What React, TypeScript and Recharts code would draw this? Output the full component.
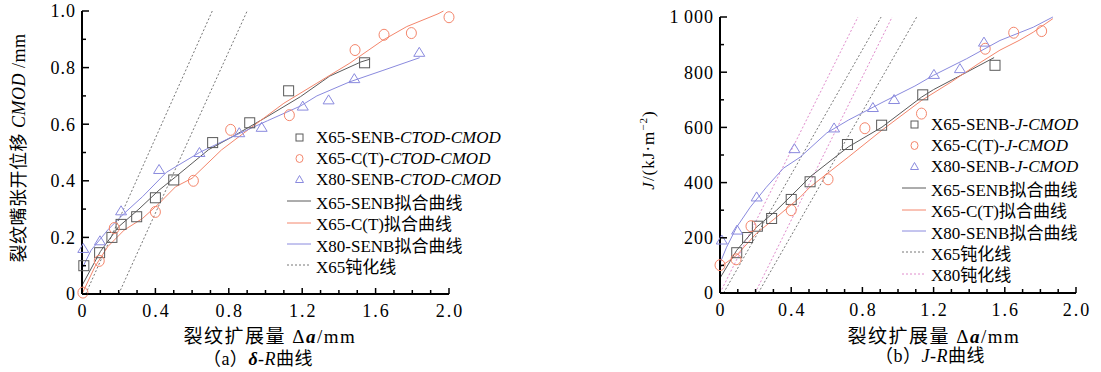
import { ComposedChart, Line, Scatter, XAxis, YAxis } from 'recharts'

const FONT = '"Liberation Serif", "Noto Sans CJK SC", serif'
const GRAY = '#5a5a5a'
const SALMON = '#f4866c'
const BLUE = '#8a8ade'
const PINK = '#e08ccc'

// shared x axis
const xTicks = [0, 0.1, 0.2, 0.3, 0.4, 0.5, 0.6, 0.7, 0.8, 0.9, 1.0, 1.1, 1.2, 1.3, 1.4, 1.5, 1.6, 1.7, 1.8, 1.9, 2.0]
const xMajor = [0, 0.4, 0.8, 1.2, 1.6, 2.0]
const xLabels = ['0', '0.4', '0.8', '1.2', '1.6', '2.0']

// (a) delta-R
const aYTicks = [0, 0.1, 0.2, 0.3, 0.4, 0.5, 0.6, 0.7, 0.8, 0.9, 1.0]
const aYMajor = [0, 0.2, 0.4, 0.6, 0.8, 1.0]
const aYLabels = ['0', '0.2', '0.4', '0.6', '0.8', '1.0']

const a65SenbX = [0.01, 0.096, 0.163, 0.213, 0.298, 0.4, 0.5, 0.712, 0.914, 1.126, 1.54]
const a65SenbY = [0.1, 0.146, 0.2, 0.246, 0.273, 0.34, 0.403, 0.535, 0.605, 0.718, 0.817]
const a65CtX = [0.005, 0.094, 0.176, 0.4, 0.607, 0.81, 1.13, 1.488, 1.646, 1.795, 2.0]
const a65CtY = [0.005, 0.117, 0.233, 0.29, 0.4, 0.58, 0.632, 0.862, 0.916, 0.922, 0.978]
const a80SenbX = [0.007, 0.098, 0.213, 0.42, 0.64, 0.857, 0.979, 1.203, 1.344, 1.484, 1.838]
const a80SenbY = [0.161, 0.188, 0.294, 0.44, 0.5, 0.57, 0.589, 0.664, 0.686, 0.761, 0.854]

const aFit65SenbX = [0, 0.1, 0.2, 0.31, 0.42, 0.51, 0.69, 0.82, 1.01, 1.19, 1.35, 1.52, 1.57]
const aFit65SenbY = [0.03, 0.15, 0.238, 0.3, 0.367, 0.414, 0.51, 0.556, 0.627, 0.697, 0.77, 0.82, 0.83]
const aFit65CtX = [0, 0.07, 0.14, 0.23, 0.33, 0.42, 0.51, 0.6, 0.76, 0.915, 1.1, 1.28, 1.46, 1.64, 1.77, 1.94, 1.97]
const aFit65CtY = [0, 0.096, 0.167, 0.226, 0.267, 0.32, 0.379, 0.409, 0.509, 0.585, 0.674, 0.745, 0.816, 0.897, 0.945, 0.99, 1.0]
const aFit80SenbX = [0, 0.05, 0.14, 0.23, 0.33, 0.46, 0.64, 0.82, 1.01, 1.19, 1.28, 1.46, 1.64, 1.84]
const aFit80SenbY = [0.09, 0.155, 0.226, 0.285, 0.344, 0.43, 0.5, 0.556, 0.612, 0.664, 0.7, 0.75, 0.79, 0.835]

const aBlunt65AX = [0.02, 0.71]
const aBlunt65BX = [0.2, 0.9]
const aBluntY = [0, 1.0]

// (b) J-R
const bYTicks = [0, 100, 200, 300, 400, 500, 600, 700, 800, 900, 1000]
const bYMajor = [0, 200, 400, 600, 800, 1000]
const bYLabels = ['0', '200', '400', '600', '800', '1\u2009000']

const b65SenbX = [0.094, 0.155, 0.21, 0.29, 0.4, 0.506, 0.716, 0.908, 1.139, 1.545]
const b65SenbY = [146, 201, 242, 270, 339, 403, 538, 608, 718, 825]
const b65CtX = [0, 0.09, 0.174, 0.4, 0.607, 0.814, 1.132, 1.49, 1.65, 1.807]
const b65CtY = [101, 122, 242, 300, 412, 597, 650, 885, 943, 949]
const b80SenbX = [0.01, 0.096, 0.206, 0.418, 0.641, 0.859, 0.978, 1.202, 1.348, 1.483]
const b80SenbY = [192, 228, 348, 523, 598, 672, 701, 792, 813, 909]

const bFit65SenbX = [0, 0.094, 0.206, 0.318, 0.45, 0.506, 0.72, 0.91, 1.133, 1.2, 1.386, 1.54]
const bFit65SenbY = [54, 155, 239, 300, 384, 421, 529, 601, 710, 737, 800, 853]
const bFit65CtX = [0, 0.094, 0.206, 0.318, 0.45, 0.506, 0.72, 0.91, 1.133, 1.3, 1.45, 1.573, 1.68, 1.76, 1.87]
const bFit65CtY = [94, 137, 217, 275, 347, 384, 492, 590, 698, 765, 830, 880, 915, 945, 994]
const bFit80SenbX = [0, 0.037, 0.094, 0.17, 0.26, 0.356, 0.45, 0.6, 0.72, 0.91, 1.095, 1.2, 1.386, 1.573, 1.76, 1.87]
const bFit80SenbY = [108, 166, 239, 311, 383, 452, 492, 580, 626, 690, 750, 789, 849, 915, 963, 1000]

const bBlunt65AX = [0.02, 0.905]
const bBlunt65BX = [0.215, 1.105]
const bBlunt80AX = [0, 0.775]
const bBlunt80BX = [0.197, 0.967]
const bBluntY = [0, 1000]

const zip = (xs: number[], ys: number[]) => xs.map((x, i) => ({ x, y: ys[i] }))
const near = (arr: number[], v: number) => arr.findIndex((m) => Math.abs(m - v) < 1e-6)

const Square = ({ cx, cy }: any) => <rect x={cx - 5} y={cy - 5} width={10} height={10} fill="none" stroke={GRAY} strokeWidth={1} />
const Circle = ({ cx, cy }: any) => <ellipse cx={cx} cy={cy} rx={5} ry={5.5} fill="none" stroke={SALMON} strokeWidth={1} />
const Tri = ({ cx, cy }: any) => <path d={`M${cx},${cy - 5}L${cx + 5.5},${cy + 4}L${cx - 5.5},${cy + 4}Z`} fill="none" stroke={BLUE} strokeWidth={1} />

const tickText = { fontFamily: FONT, fontSize: 18, fill: '#000', letterSpacing: 2 }

const XTick = ({ x, y, payload }: any) => {
  const i = near(xMajor, payload.value)
  return (
    <g>
      <line x1={x} x2={x} y1={y} y2={y - (i >= 0 ? 6 : 4)} stroke="#000" strokeWidth={1.5} />
      {i >= 0 && <text x={x + 1} y={y + 23} textAnchor="middle" style={tickText}>{xLabels[i]}</text>}
    </g>
  )
}

const makeYTick = (major: number[], labels: string[]) => ({ x, y, payload }: any) => {
  const i = near(major, payload.value)
  return (
    <g>
      <line x1={x} x2={x + (i >= 0 ? 7 : 4)} y1={y} y2={y} stroke="#000" strokeWidth={1.5} />
      {i >= 0 && <text x={x - 6} y={y} dy="0.35em" textAnchor="end" style={{ ...tickText, letterSpacing: 1 }}>{labels[i]}</text>}
    </g>
  )
}
const ATick = makeYTick(aYMajor, aYLabels)
const BTick = makeYTick(bYMajor, bYLabels)

const axisLine = { stroke: '#000', strokeWidth: 2 }

function Swatch({ kind }: { kind: string }) {
  return (
    <svg width={30} height={14} style={{ display: 'block' }}>
      {kind === 'sq' && <rect x={11} y={3} width={7} height={7} fill="none" stroke={GRAY} />}
      {kind === 'ci' && <ellipse cx={14.5} cy={6.5} rx={3.5} ry={4} fill="none" stroke={SALMON} />}
      {kind === 'tr' && <path d="M14.5,2.5L18.5,9.5L10.5,9.5Z" fill="none" stroke={BLUE} />}
      {kind === 'lg' && <line x1={2} x2={26} y1={7} y2={7} stroke={GRAY} />}
      {kind === 'ls' && <line x1={2} x2={26} y1={7} y2={7} stroke={SALMON} />}
      {kind === 'lb' && <line x1={2} x2={26} y1={7} y2={7} stroke={BLUE} />}
      {kind === 'dg' && <line x1={2} x2={26} y1={7} y2={7} stroke="#777" strokeDasharray="2 2" />}
      {kind === 'dp' && <line x1={2} x2={26} y1={7} y2={7} stroke={PINK} strokeDasharray="2 2" />}
    </svg>
  )
}

const aLegendKinds = ['sq', 'ci', 'tr', 'lg', 'ls', 'lb', 'dg']
const aLegendText = ['X65-SENB-', 'X65-C(T)-', 'X80-SENB-', 'X65-SENB拟合曲线', 'X65-C(T)拟合曲线', 'X80-SENB拟合曲线', 'X65钝化线']
const aLegendItal = ['CTOD-CMOD', 'CTOD-CMOD', 'CTOD-CMOD', '', '', '', '']
const bLegendKinds = ['sq', 'ci', 'tr', 'lg', 'ls', 'lb', 'dg', 'dp']
const bLegendText = ['X65-SENB-', 'X65-C(T)-', 'X80-SENB-', 'X65-SENB拟合曲线', 'X65-C(T)拟合曲线', 'X80-SENB拟合曲线', 'X65钝化线', 'X80钝化线']
const bLegendItal = ['J-CMOD', 'J-CMOD', 'J-CMOD', '', '', '', '', '']

function LegendBox({ left, top, kinds, texts, itals }: { left: number; top: number; kinds: string[]; texts: string[]; itals: string[] }) {
  return (
    <div style={{ position: 'absolute', left, top }}>
      {kinds.map((k, i) => (
        <div key={i} style={{ position: 'absolute', left: 0, top: i * 21.3, height: 21, display: 'flex', alignItems: 'center', whiteSpace: 'nowrap', fontFamily: FONT, fontSize: 17, color: '#000' }}>
          <Swatch kind={k} />
          <span style={{ marginLeft: 1 }}>{texts[i]}<i>{itals[i]}</i></span>
        </div>
      ))}
    </div>
  )
}

const abs = (left: number, top: number, extra: any = {}) => ({ position: 'absolute' as const, left, top, whiteSpace: 'nowrap' as const, fontFamily: FONT, color: '#000', ...extra })

export default function App() {
  return (
    <div style={{ position: 'absolute', left: 0, top: 0, width: 1101, height: 372, background: '#fff', overflow: 'hidden' }}>
      <div style={{ position: 'absolute', left: 0, top: 0 }}>
        <ComposedChart width={560} height={372} margin={{ top: 11, right: 111, bottom: 48, left: 42 }}>
          <XAxis type="number" dataKey="x" domain={[0, 2]} ticks={xTicks} interval={0} tickSize={0} tickMargin={0} tick={<XTick />} tickLine={false} axisLine={axisLine} height={30} />
          <YAxis type="number" dataKey="y" domain={[0, 1]} ticks={aYTicks} interval={0} tickSize={0} tickMargin={0} tick={<ATick />} tickLine={false} axisLine={axisLine} width={40} />
          <Line data={zip(aBlunt65AX, aBluntY)} dataKey="y" stroke="#777" strokeWidth={1} strokeDasharray="2 2" dot={false} activeDot={false} isAnimationActive={false} />
          <Line data={zip(aBlunt65BX, aBluntY)} dataKey="y" stroke="#777" strokeWidth={1} strokeDasharray="2 2" dot={false} activeDot={false} isAnimationActive={false} />
          <Line data={zip(aFit65SenbX, aFit65SenbY)} dataKey="y" stroke={GRAY} strokeWidth={1} dot={false} activeDot={false} isAnimationActive={false} />
          <Line data={zip(aFit65CtX, aFit65CtY)} dataKey="y" stroke={SALMON} strokeWidth={1} dot={false} activeDot={false} isAnimationActive={false} />
          <Line data={zip(aFit80SenbX, aFit80SenbY)} dataKey="y" stroke={BLUE} strokeWidth={1} dot={false} activeDot={false} isAnimationActive={false} />
          <Scatter data={zip(a65SenbX, a65SenbY)} dataKey="y" shape={<Square />} isAnimationActive={false} />
          <Scatter data={zip(a65CtX, a65CtY)} dataKey="y" shape={<Circle />} isAnimationActive={false} />
          <Scatter data={zip(a80SenbX, a80SenbY)} dataKey="y" shape={<Tri />} isAnimationActive={false} />
        </ComposedChart>
      </div>
      <div style={{ position: 'absolute', left: 560, top: 0 }}>
        <ComposedChart width={541} height={372} margin={{ top: 17, right: 25, bottom: 49, left: 120 }}>
          <XAxis type="number" dataKey="x" domain={[0, 2]} ticks={xTicks} interval={0} tickSize={0} tickMargin={0} tick={<XTick />} tickLine={false} axisLine={axisLine} height={30} />
          <YAxis type="number" dataKey="y" domain={[0, 1000]} ticks={bYTicks} interval={0} tickSize={0} tickMargin={0} tick={<BTick />} tickLine={false} axisLine={axisLine} width={40} />
          <Line data={zip(bBlunt80AX, bBluntY)} dataKey="y" stroke={PINK} strokeWidth={1} strokeDasharray="2 2" dot={false} activeDot={false} isAnimationActive={false} />
          <Line data={zip(bBlunt80BX, bBluntY)} dataKey="y" stroke={PINK} strokeWidth={1} strokeDasharray="2 2" dot={false} activeDot={false} isAnimationActive={false} />
          <Line data={zip(bBlunt65AX, bBluntY)} dataKey="y" stroke="#777" strokeWidth={1} strokeDasharray="2 2" dot={false} activeDot={false} isAnimationActive={false} />
          <Line data={zip(bBlunt65BX, bBluntY)} dataKey="y" stroke="#777" strokeWidth={1} strokeDasharray="2 2" dot={false} activeDot={false} isAnimationActive={false} />
          <Line data={zip(bFit65SenbX, bFit65SenbY)} dataKey="y" stroke={GRAY} strokeWidth={1} dot={false} activeDot={false} isAnimationActive={false} />
          <Line data={zip(bFit65CtX, bFit65CtY)} dataKey="y" stroke={SALMON} strokeWidth={1} dot={false} activeDot={false} isAnimationActive={false} />
          <Line data={zip(bFit80SenbX, bFit80SenbY)} dataKey="y" stroke={BLUE} strokeWidth={1} dot={false} activeDot={false} isAnimationActive={false} />
          <Scatter data={zip(b65SenbX, b65SenbY)} dataKey="y" shape={<Square />} isAnimationActive={false} />
          <Scatter data={zip(b65CtX, b65CtY)} dataKey="y" shape={<Circle />} isAnimationActive={false} />
          <Scatter data={zip(b80SenbX, b80SenbY)} dataKey="y" shape={<Tri />} isAnimationActive={false} />
        </ComposedChart>
      </div>

      <LegendBox left={285} top={127} kinds={aLegendKinds} texts={aLegendText} itals={aLegendItal} />
      <LegendBox left={900} top={114} kinds={bLegendKinds} texts={bLegendText} itals={bLegendItal} />

      {/* y titles */}
      <div style={abs(17, 148, { fontSize: 18, transform: 'translate(-50%, -50%) rotate(-90deg)', letterSpacing: 0.5 })}>
        裂纹嘴张开位移 <i>CMOD</i> /mm
      </div>
      <div style={abs(648, 150, { fontSize: 17, transform: 'translate(-50%, -50%) rotate(-90deg)', letterSpacing: 1 })}>
        <i>J</i>/(kJ·m<sup style={{ fontSize: 11 }}>−2</sup>)
      </div>

      {/* x titles and captions */}
      <div style={abs(270, 334, { fontSize: 19, letterSpacing: 1.5, transform: 'translate(-50%, -50%)' })}>
        裂纹扩展量 Δ<b><i>a</i></b>/mm
      </div>
      <div style={abs(934, 334, { fontSize: 19, letterSpacing: 1.5, transform: 'translate(-50%, -50%)' })}>
        裂纹扩展量 Δ<b><i>a</i></b>/mm
      </div>
      <div style={abs(258, 357, { fontSize: 18, letterSpacing: 0.5, transform: 'translate(-50%, -50%)' })}>
        （a）<b><i>δ</i></b>-<i>R</i>曲线
      </div>
      <div style={abs(930, 354, { fontSize: 18, letterSpacing: 0.5, transform: 'translate(-50%, -50%)' })}>
        （b）<i>J</i>-<i>R</i>曲线
      </div>
    </div>
  )
}
